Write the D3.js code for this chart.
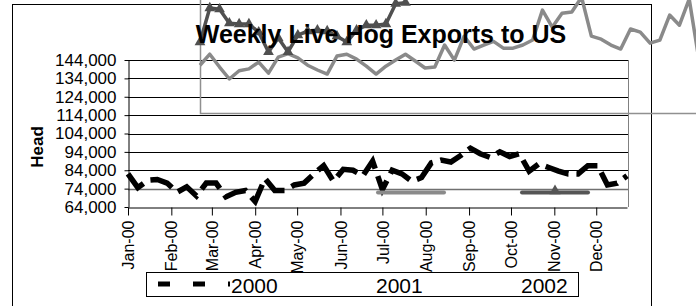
<!DOCTYPE html>
<html>
<head>
<meta charset="utf-8">
<script src="https://cdn.jsdelivr.net/npm/d3@7"></script>
<style>
body { margin: 0; background: #fff; }
svg { display: block; }
</style>
</head>
<body>
<div id="wrapper"></div>
<script>
// weekly live hog exports (head)
const yTicks = [64000, 74000, 84000, 94000, 104000, 114000, 124000, 134000, 144000];
const legendLabels = ["2000", "2001", "2002"];

const exports2000 = [82000, 74500, 78500, 79000, 77000, 72000, 75000, 70000, 77000, 77000,
    69500, 72000, 73000, 67000, 79500, 73000, 73000, 76000, 77000, 82000,
    86500, 78000, 84500, 84000, 81000, 89000, 73500, 84000, 82000, 78000,
    80000, 88000, 89500, 88500, 92000, 96000, 93000, 91000, 94000, 91500,
    93000, 83500, 87500, 85500, 83500, 82000, 82000, 86500, 86500, 76000,
    77000, 81000];

const exports2001 = [90000, 96000, 89000, 82500, 87000, 88000, 91700, 85700, 94400, 96300,
    94000, 90000, 87400, 85200, 95000, 96000, 93300, 89500, 85200, 89500,
    92800, 96000, 92300, 88500, 89000, 101000, 92800, 105800, 98800, 101000,
    103000, 99300, 99300, 101000, 103700, 120000, 110700, 118300, 119000, 127000,
    105800, 104200, 101000, 98800, 109700, 108000, 102000, 103700, 117300, 111800,
    126000, 92800];

const exports2002 = [102600, 121100, 120500, 112900, 112400, 112400, 108000, 97200, 104800, 97200,
    106400, 108600, 109100, 108600, 105800, 102600, 109000, 111800, 111800, 112400,
    123500, 124000];

const font = '"Liberation Sans", Arial, sans-serif';

var dimension = {
    width: 696,
    height: 306,
    margin: { top: 60, right: 68, bottom: 99, left: 128 }
}
dimension.boundedWidth = dimension.width - dimension.margin.left - dimension.margin.right;
dimension.boundedHeight = dimension.height - dimension.margin.top - dimension.margin.bottom;

const weeks2000 = d3.range(exports2000.length).map(i => d3.timeDay.offset(new Date(2000, 0, 1), 7 * i));
const monthTicks = d3.timeMonth.range(new Date(2000, 0, 1), new Date(2000, 11, 2));

var x = d3.scaleTime()
    .domain([new Date(2000, 0, 1), new Date(2000, 11, 23)])
    .range([dimension.margin.left, dimension.margin.left + 499]);
var y = d3.scaleLinear()
    .domain([64000, 144000])
    .range([dimension.margin.top + dimension.boundedHeight, dimension.margin.top]);

// the 2001/2002 series spill out of the plot area, shifted up and right
var xo = d3.scaleLinear().domain([0, 51]).range([200, 699]);
var yo = y.copy().range([113, -34]);

const svg = d3.select("#wrapper")
    .append("svg")
    .attr("width", dimension.width)
    .attr("height", dimension.height)
    .style("font-family", font);

svg.append("rect")
    .attr("x", 12.5).attr("y", 4.5)
    .attr("width", 639).attr("height", 400)
    .attr("fill", "#fff")
    .attr("stroke", "#000");

// gridlines
svg.append("g")
    .selectAll("line")
    .data(yTicks.slice(1))
    .join("line")
    .attr("x1", dimension.margin.left)
    .attr("x2", dimension.margin.left + 500)
    .attr("y1", d => Math.round(y(d)) + 0.5)
    .attr("y2", d => Math.round(y(d)) + 0.5)
    .attr("stroke", d => d == 74000 ? "#707070" : "#000")
    .attr("stroke-width", d => d == 74000 ? 1.5 : 1);

svg.append("line")
    .attr("x1", dimension.margin.left + 500.5).attr("x2", dimension.margin.left + 500.5)
    .attr("y1", y(144000)).attr("y2", y(64000))
    .attr("stroke", "#808080");

// overlay axes of the spilled series
svg.append("path")
    .attr("d", "M200.5,0V113.5H696")
    .attr("fill", "none")
    .attr("stroke", "#909090")
    .attr("stroke-width", 1.5);

const xAxis = svg.append("g")
    .attr("transform", `translate(0,${Math.round(y(64000)) + 0.5})`)
    .call(d3.axisBottom(x)
        .tickValues(monthTicks)
        .tickFormat(d3.timeFormat("%b-%y"))
        .tickSize(8)
        .tickSizeOuter(0))
    .attr("font-family", font)
    .attr("font-size", 16);
xAxis.selectAll("text")
    .attr("transform", "rotate(-90)")
    .attr("x", -13)
    .attr("y", 0)
    .attr("dy", "0.35em")
    .style("text-anchor", "end")
    .attr("fill", "#000");

const yAxis = svg.append("g")
    .attr("transform", `translate(${dimension.margin.left + 0.5},0)`)
    .call(d3.axisLeft(y)
        .tickValues(yTicks)
        .tickFormat(d3.format(","))
        .tickSize(4)
        .tickPadding(8)
        .tickSizeOuter(0))
    .attr("font-family", font)
    .attr("font-size", 17);
yAxis.selectAll("text").attr("fill", "#000");

// 2000 series
var line2000 = d3.line()
    .x((d, i) => x(weeks2000[i]))
    .y(d => y(d));
svg.append("path")
    .datum(exports2000)
    .attr("d", line2000)
    .attr("fill", "none")
    .attr("stroke", "#000")
    .attr("stroke-width", 5.5)
    .attr("stroke-dasharray", "24,8");

// legend
svg.append("rect")
    .attr("x", 146.5).attr("y", 272.5)
    .attr("width", 432).attr("height", 24)
    .attr("fill", "#fff")
    .attr("stroke", "#000");
svg.append("line")
    .attr("x1", 158).attr("x2", 230)
    .attr("y1", 284).attr("y2", 284)
    .attr("stroke", "#000")
    .attr("stroke-width", 5)
    .attr("stroke-dasharray", "12,23");
svg.append("g")
    .selectAll("text")
    .data(legendLabels)
    .join("text")
    .attr("x", (d, i) => 231 + 145 * i)
    .attr("y", 293)
    .attr("font-size", 21)
    .text(d => d);

// legend keys for 2001 and 2002 got displaced into the plot
svg.append("line")
    .attr("x1", 378).attr("x2", 444)
    .attr("y1", 192.5).attr("y2", 192.5)
    .attr("stroke", "#8a8a8a")
    .attr("stroke-width", 4)
    .attr("stroke-linecap", "round");
svg.append("line")
    .attr("x1", 522).attr("x2", 588)
    .attr("y1", 192.5).attr("y2", 192.5)
    .attr("stroke", "#555")
    .attr("stroke-width", 4)
    .attr("stroke-linecap", "round");
svg.append("path")
    .attr("d", d3.symbol(d3.symbolTriangle, 55))
    .attr("transform", "translate(555,191)")
    .attr("fill", "#555");

// spilled series
var lineOverlay = d3.line()
    .x((d, i) => xo(i))
    .y(d => yo(d));
svg.append("path")
    .datum(exports2001)
    .attr("d", lineOverlay)
    .attr("fill", "none")
    .attr("stroke", "#8a8a8a")
    .attr("stroke-width", 3.5)
    .attr("stroke-linejoin", "round");
svg.append("path")
    .datum(exports2002)
    .attr("d", lineOverlay)
    .attr("fill", "none")
    .attr("stroke", "#505050")
    .attr("stroke-width", 3.5)
    .attr("stroke-linejoin", "round");
svg.append("g")
    .selectAll("path")
    .data(exports2002)
    .join("path")
    .attr("d", d3.symbol(d3.symbolTriangle, 50))
    .attr("transform", (d, i) => `translate(${xo(i)},${yo(d)})`)
    .attr("fill", "#505050");

// titles
svg.append("text")
    .attr("x", 381)
    .attr("y", 43)
    .attr("text-anchor", "middle")
    .attr("font-size", 25)
    .attr("font-weight", "bold")
    .text("Weekly Live Hog Exports to US");

svg.append("text")
    .attr("transform", "translate(43,147) rotate(-90)")
    .attr("text-anchor", "middle")
    .attr("font-size", 17)
    .attr("font-weight", "bold")
    .text("Head");
</script>
</body>
</html>
